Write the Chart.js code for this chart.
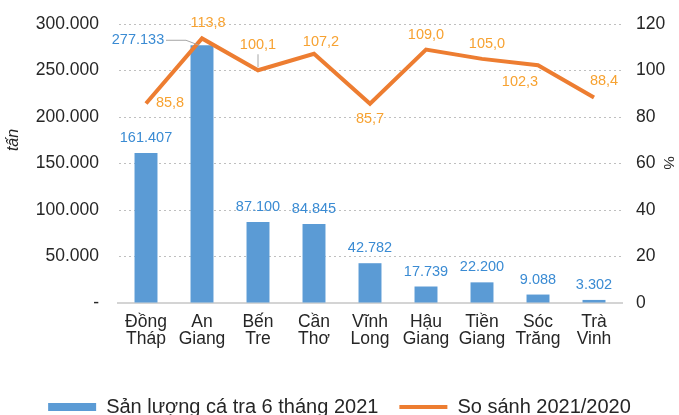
<!DOCTYPE html>
<html>
<head>
<meta charset="utf-8">
<script src="https://cdn.jsdelivr.net/npm/chart.js@4"></script>
<style>
  html, body { margin: 0; padding: 0; background: #fff; }
  canvas { display: block; }
</style>
</head>
<body>
<canvas id="c" width="679" height="415"></canvas>
<script>
// dữ liệu
const provinces = [['Đồng', 'Tháp'], ['An', 'Giang'], ['Bến', 'Tre'], ['Cần', 'Thơ'], ['Vĩnh', 'Long'],
                   ['Hậu', 'Giang'], ['Tiền', 'Giang'], ['Sóc', 'Trăng'], ['Trà', 'Vinh']];
const output2021 = [161407, 277133, 87100, 84845, 42782, 17739, 22200, 9088, 3302];
const ratio = [85.8, 113.8, 100.1, 107.2, 85.7, 109.0, 105.0, 102.3, 88.4];
const barName = 'Sản lượng cá tra 6 tháng 2021';
const lineName = 'So sánh 2021/2020';

// vị trí nhãn (dx, dy so với điểm)
const barLabelOffsets = [[0, -15], [-64, -5], [0, -15], [0, -15], [0, -15], [0, -15], [0, -15], [0, -15], [0, -15]];
const lineLabelOffsets = [[24, -1], [6, -15], [0, -25], [7, -12], [0, 15], [0, -15], [5, -15], [-18, 17], [10, -16]];

const FONT = '"Liberation Sans", Arial, sans-serif';
const TEXT = '#262626';

const fmtThousands = v => v === 0 ? '-' : v.toString().replace(/\B(?=(\d{3})+(?!\d))/g, '.');
const fmtComma = v => v.toFixed(1).replace('.', ',');

const labelsPlugin = {
  id: 'labels',
  afterDatasetsDraw(chart) {
    const ctx = chart.ctx;
    ctx.save();
    ctx.textAlign = 'center';
    ctx.textBaseline = 'middle';
    ctx.font = '14.5px ' + FONT;

    // nhãn cột
    const barMeta = chart.getDatasetMeta(0);
    barMeta.data.forEach((el, i) => {
      const [dx, dy] = barLabelOffsets[i];
      ctx.fillStyle = '#3A8BD3';
      ctx.fillText(fmtThousands(output2021[i]), el.x + dx, el.y + dy);
      if (i === 1) {
        ctx.strokeStyle = '#A6A6A6';
        ctx.lineWidth = 1;
        ctx.beginPath();
        ctx.moveTo(el.x - 36, el.y - 5);
        ctx.lineTo(el.x - 16, el.y - 5);
        ctx.lineTo(el.x - 3, el.y);
        ctx.stroke();
      }
    });

    // nhãn đường
    const lineMeta = chart.getDatasetMeta(1);
    lineMeta.data.forEach((el, i) => {
      const [dx, dy] = lineLabelOffsets[i];
      ctx.fillStyle = '#F7A231';
      ctx.fillText(fmtComma(ratio[i]), el.x + dx, el.y + dy);
      if (i === 2) {
        ctx.strokeStyle = '#A6A6A6';
        ctx.lineWidth = 1;
        ctx.beginPath();
        ctx.moveTo(el.x, el.y - 3);
        ctx.lineTo(el.x, el.y - 16);
        ctx.stroke();
      }
    });

    // tiêu đề trục
    const area = chart.chartArea;
    ctx.fillStyle = TEXT;
    ctx.font = 'italic 16px ' + FONT;
    ctx.save();
    ctx.translate(14, area.top + 116);
    ctx.rotate(-Math.PI / 2);
    ctx.fillText('tấn', 0, 0);
    ctx.restore();
    ctx.font = '15px ' + FONT;
    ctx.save();
    ctx.translate(668, area.top + 139);
    ctx.rotate(Math.PI / 2);
    ctx.fillText('%', 0, 0);
    ctx.restore();
    ctx.restore();
  }
};

new Chart(document.getElementById('c'), {
  data: {
    labels: provinces,
    datasets: [
      {
        type: 'bar',
        label: barName,
        data: output2021,
        backgroundColor: '#5B9BD5',
        borderWidth: 0,
        barPercentage: 1,
        categoryPercentage: 0.41,
        yAxisID: 'y',
        order: 1,
        pointStyle: 'rect'
      },
      {
        type: 'line',
        label: lineName,
        data: ratio,
        borderColor: '#ED7D31',
        backgroundColor: '#ED7D31',
        borderWidth: 4,
        pointRadius: 0,
        tension: 0,
        yAxisID: 'y1',
        order: 0,
        pointStyle: 'line'
      }
    ]
  },
  options: {
    responsive: false,
    animation: false,
    layout: { padding: { top: 24, left: 0, right: 0, bottom: -12 } },
    plugins: {
      tooltip: { enabled: false },
      legend: {
        position: 'bottom',
        labels: {
          usePointStyle: true,
          pointStyleWidth: 48,
          boxHeight: 8,
          padding: 21,
          color: TEXT,
          font: { family: FONT, size: 20 },
          sort: (a, b) => a.datasetIndex - b.datasetIndex
        }
      }
    },
    scales: {
      x: {
        grid: { display: false, drawTicks: false },
        border: { display: true, color: '#D4D4D4', width: 2 },
        ticks: {
          color: TEXT,
          font: { family: FONT, size: 17.5, lineHeight: 0.97 },
          padding: 11,
          maxRotation: 0
        },
        afterFit(scale) { scale.height = 73; }
      },
      y: {
        position: 'left',
        min: 0,
        max: 300000,
        ticks: {
          stepSize: 50000,
          color: TEXT,
          font: { family: FONT, size: 17.5 },
          padding: 19,
          callback: v => fmtThousands(v)
        },
        grid: { color: '#BFBFBF', drawTicks: false, lineWidth: 1 },
        border: { display: true, color: 'rgba(0,0,0,0)', dash: [2, 3] },
        afterFit(scale) { scale.width = 118; scale.paddingTop = 0; scale.paddingBottom = 0; }
      },
      y1: {
        position: 'right',
        min: 0,
        max: 120,
        ticks: {
          stepSize: 20,
          color: TEXT,
          font: { family: FONT, size: 17.5 },
          padding: 14
        },
        grid: { display: false, drawTicks: false },
        border: { display: false },
        afterFit(scale) { scale.width = 57; scale.paddingTop = 0; scale.paddingBottom = 0; }
      }
    }
  },
  plugins: [labelsPlugin]
});
</script>
</body>
</html>
